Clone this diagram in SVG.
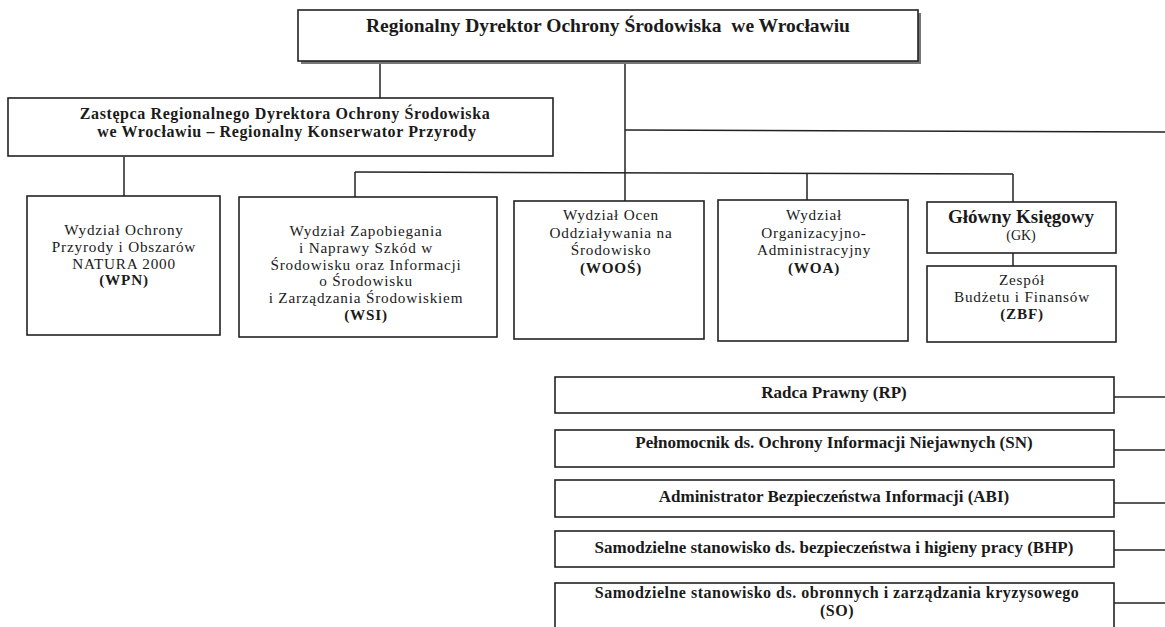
<svg xmlns="http://www.w3.org/2000/svg" width="1165" height="627" viewBox="0 0 1165 627">
<style>
  .box { fill: #fff; stroke: #222; stroke-width: 1.6; }
  .shadow { fill: #777; }
  .ln { stroke: #222; stroke-width: 1.5; fill: none; }
  text { font-family: "Liberation Serif", "Times New Roman", serif; fill: #1a1a1a; text-anchor: middle; white-space: pre; }
  .t { font-size: 15.2px; letter-spacing: 0.8px; }
  .b { font-weight: bold; }
  .b17 { font-size: 17px; font-weight: bold; }
  .title { font-size: 19.5px; font-weight: bold; }
  .dep { font-size: 16px; font-weight: bold; letter-spacing: 0.6px; }
  .so { font-size: 16px; font-weight: bold; letter-spacing: 0.5px; }
</style>
<rect width="1165" height="627" fill="#fff"/>

<g id="connectors">
  <line class="ln" x1="380" y1="60" x2="380" y2="98"/>
  <line class="ln" x1="625" y1="60" x2="625" y2="201"/>
  <line class="ln" x1="625" y1="130" x2="1165" y2="132"/>
  <line class="ln" x1="124" y1="157" x2="124" y2="196"/>
  <line class="ln" x1="355" y1="172" x2="1013" y2="174"/>
  <line class="ln" x1="355" y1="172" x2="355" y2="197"/>
  <line class="ln" x1="807" y1="173" x2="807" y2="200"/>
  <line class="ln" x1="1013" y1="174" x2="1013" y2="202"/>
  <line class="ln" x1="1013" y1="253" x2="1013" y2="266"/>
  <line class="ln" x1="1114" y1="397" x2="1165" y2="397"/>
  <line class="ln" x1="1114" y1="450" x2="1165" y2="450"/>
  <line class="ln" x1="1114" y1="503" x2="1165" y2="503"/>
  <line class="ln" x1="1114" y1="550" x2="1165" y2="550"/>
  <line class="ln" x1="1114" y1="603" x2="1165" y2="603"/>
</g>

<g id="rdos">
  <rect class="shadow" x="301" y="13" width="620" height="51"/>
  <rect class="box" x="298" y="10" width="620" height="51"/>
  <text class="title" x="608" y="32">Regionalny Dyrektor Ochrony Środowiska  we Wrocławiu</text>
</g>

<g id="zastepca">
  <rect class="box" x="8" y="98" width="545" height="58"/>
  <text class="dep" x="285" y="119">Zastępca Regionalnego Dyrektora Ochrony Środowiska<tspan x="287" dy="18">we Wrocławiu – Regionalny Konserwator Przyrody</tspan></text>
</g>

<g id="wpn">
  <rect class="box" x="27" y="196" width="193" height="139"/>
  <text class="t" x="124" y="235">Wydział Ochrony<tspan x="124" dy="16.8">Przyrody i Obszarów</tspan><tspan x="124" dy="16.8">NATURA 2000</tspan><tspan x="124" dy="16.8" class="b">(WPN)</tspan></text>
</g>

<g id="wsi">
  <rect class="box" x="239" y="197" width="258" height="140"/>
  <text class="t" x="366" y="236">Wydział Zapobiegania<tspan x="366" dy="16.8">i Naprawy Szkód w</tspan><tspan x="366" dy="16.8">Środowisku oraz Informacji</tspan><tspan x="366" dy="16.8">o Środowisku</tspan><tspan x="366" dy="16.8">i Zarządzania Środowiskiem</tspan><tspan x="366" dy="16.8" class="b">(WSI)</tspan></text>
</g>

<g id="woos">
  <rect class="box" x="514" y="201" width="190" height="138"/>
  <text class="t" x="611" y="220">Wydział Ocen<tspan x="611" dy="17.5">Oddziaływania na</tspan><tspan x="611" dy="17.5">Środowisko</tspan><tspan x="611" dy="17.5" class="b">(WOOŚ)</tspan></text>
</g>

<g id="woa">
  <rect class="box" x="718" y="200" width="190" height="141"/>
  <text class="t" x="814" y="220">Wydział<tspan x="814" dy="17.5">Organizacyjno-</tspan><tspan x="814" dy="17.5">Administracyjny</tspan><tspan x="814" dy="17.5" class="b">(WOA)</tspan></text>
</g>

<g id="gk">
  <rect class="box" x="927" y="202" width="189" height="51"/>
  <text x="1021" y="223" style="font-size:19px;font-weight:bold">Główny Księgowy<tspan x="1021" dy="17" style="font-size:14px;font-weight:normal">(GK)</tspan></text>
</g>

<g id="zbf">
  <rect class="box" x="927" y="266" width="189" height="76"/>
  <text class="t" x="1022" y="285">Zespół<tspan x="1022" dy="17">Budżetu i Finansów</tspan><tspan x="1022" dy="17" class="b">(ZBF)</tspan></text>
</g>

<g id="rp">
  <rect class="box" x="555" y="377" width="559" height="36"/>
  <text class="b17" x="834" y="398">Radca Prawny (RP)</text>
</g>

<g id="sn">
  <rect class="box" x="555" y="430" width="559" height="37"/>
  <text class="b17" x="834" y="448">Pełnomocnik ds. Ochrony Informacji Niejawnych (SN)</text>
</g>

<g id="abi">
  <rect class="box" x="555" y="480" width="559" height="37"/>
  <text class="b17" x="834" y="502">Administrator Bezpieczeństwa Informacji (ABI)</text>
</g>

<g id="bhp">
  <rect class="box" x="555" y="531" width="559" height="36"/>
  <text class="b17" x="834" y="553">Samodzielne stanowisko ds. bezpieczeństwa i higieny pracy (BHP)</text>
</g>

<g id="so">
  <rect class="box" x="555" y="583" width="559" height="60"/>
  <text class="so" x="837" y="598">Samodzielne stanowisko ds. obronnych i zarządzania kryzysowego<tspan x="837" dy="18">(SO)</tspan></text>
</g>
</svg>
